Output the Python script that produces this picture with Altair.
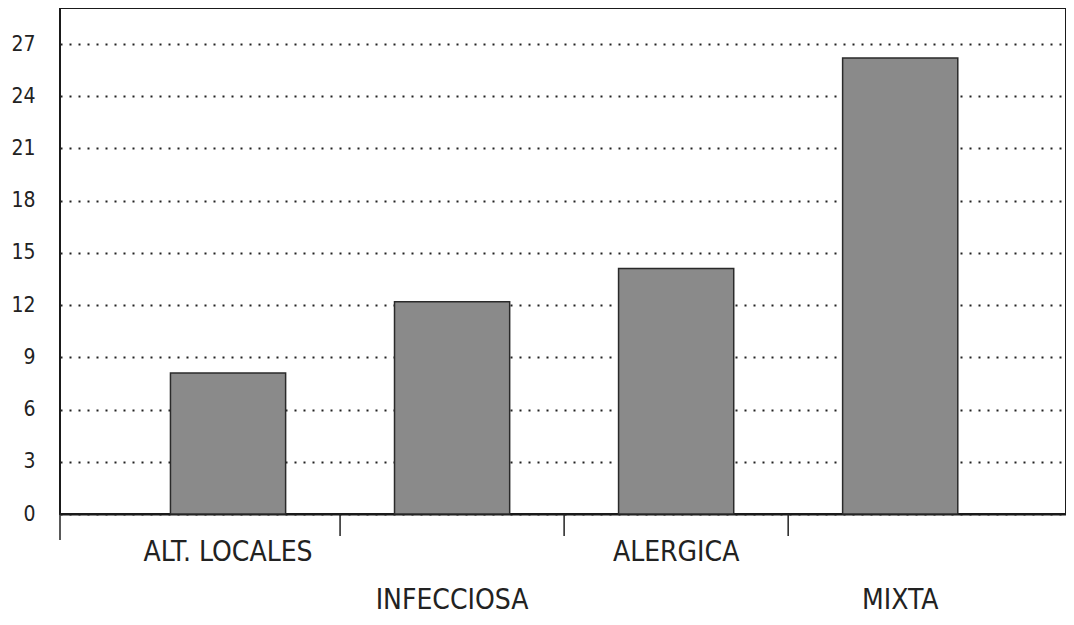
import altair as alt
import pandas as pd

categories = ["ALT. LOCALES", "INFECCIOSA", "ALERGICA", "MIXTA"]
values = [8.1, 12.2, 14.1, 26.2]
y_ticks = [0, 3, 6, 9, 12, 15, 18, 21, 24, 27]

FONT = "DejaVu Sans Condensed, Liberation Sans Narrow, Roboto, sans-serif"

df = pd.DataFrame({"cat": categories, "value": values})
df["idx"] = range(len(categories))
df["x0"] = df["idx"] - 0.257
df["x1"] = df["idx"] + 0.257
df["row"] = df["idx"] % 2

ticks_df = pd.DataFrame({"pos": (df["idx"][:-1] + 0.5).tolist()})

xscale = alt.Scale(domain=[-0.75, 3.74], nice=False, zero=False)
yscale = alt.Scale(domain=[0, 29.07], nice=False)

bars = alt.Chart(df).mark_bar(fill="#8a8a8a", stroke="#2a2a2a", strokeWidth=1.5).encode(
    x=alt.X("x0:Q", scale=xscale,
            axis=alt.Axis(title=None, labels=False, ticks=False, grid=False,
                          domain=True, domainColor="#1a1a1a", domainWidth=2)),
    x2="x1",
    y=alt.Y("value:Q", scale=yscale,
            axis=alt.Axis(values=y_ticks, title=None, ticks=False, domain=False,
                          labelPadding=25, labelFont=FONT, labelFontSize=21,
                          labelColor="#222222", grid=True, gridColor="#222222",
                          gridDash=[2, 7], gridWidth=2)),
    y2=alt.datum(0),
)

tick_rules = alt.Chart(ticks_df).mark_rule(color="#222222", strokeWidth=1.5).encode(
    x=alt.X("pos:Q", scale=xscale),
    y=alt.value(506),
    y2=alt.value(528),
)

left_ext = alt.Chart(ticks_df.head(1)).mark_rule(color="#222222", strokeWidth=1.5).encode(
    x=alt.value(0),
    y=alt.value(506),
    y2=alt.value(532),
)

label_top = alt.Chart(df).transform_filter("datum.row == 0").mark_text(
    font=FONT, fontSize=28, color="#222222", baseline="middle", align="center"
).encode(
    x=alt.X("idx:Q", scale=xscale),
    y=alt.value(545),
    text="cat:N",
)

label_bot = alt.Chart(df).transform_filter("datum.row == 1").mark_text(
    font=FONT, fontSize=28, color="#222222", baseline="middle", align="center"
).encode(
    x=alt.X("idx:Q", scale=xscale),
    y=alt.value(593),
    text="cat:N",
)

chart = alt.layer(bars, tick_rules, left_ext, label_top, label_bot).properties(
    width=1006,
    height=506,
    autosize=alt.AutoSizeParams(type="none"),
    padding={"left": 52, "top": 0, "right": 0, "bottom": 103},
    background="white",
).configure_view(stroke="#1a1a1a", strokeWidth=2)

chart.save("out.html", embed_options={"renderer": "svg", "actions": False})
